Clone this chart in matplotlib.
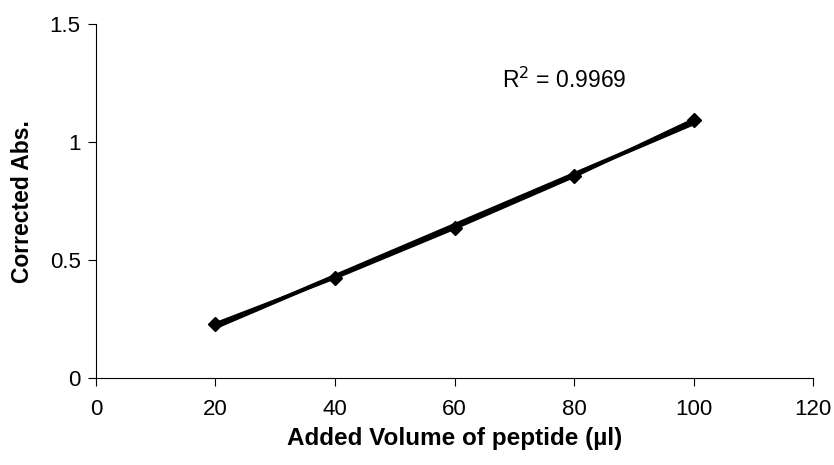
import matplotlib
matplotlib.use('Agg')
import matplotlib.pyplot as plt
import numpy as np

plt.rcParams['font.family'] = ['Liberation Sans', 'DejaVu Sans']

# peptide volume (ul) vs corrected absorbance
volume = [20, 40, 60, 80, 100]
absorb = [0.23, 0.425, 0.635, 0.855, 1.095]
r2_text = 'R$^2$ = 0.9969'

fig = plt.figure(figsize=(8.34, 4.65), dpi=100)
ax = fig.add_axes([0.115, 0.187, 0.860, 0.761])

# linear trendline
slope, icpt = np.polyfit(volume, absorb, 1)
fit_x = np.array([volume[0], volume[-1]])
ax.plot(fit_x, slope * fit_x + icpt, color='black', lw=3, solid_capstyle='butt')
ax.plot(volume, absorb, color='black', lw=2.4, marker='D', markersize=7)

ax.text(68, 1.23, r2_text, fontsize=16.5, va='baseline')

ax.set_xlim(0, 120)
ax.set_ylim(0, 1.5)
ax.set_xticks([0, 20, 40, 60, 80, 100, 120])
ax.set_yticks([0, 0.5, 1, 1.5])
ax.set_yticklabels(['0', '0.5', '1', '1.5'])
ax.tick_params(labelsize=16, length=6, width=0.8, direction='out')
ax.tick_params(axis='x', pad=9)
ax.tick_params(axis='y', pad=5)

for s in ['top', 'right']:
    ax.spines[s].set_visible(False)
for s in ['left', 'bottom']:
    ax.spines[s].set_linewidth(0.8)

ax.set_xlabel('Added Volume of peptide (\u00b5l)', fontsize=17.5, fontweight='bold', labelpad=5)
ax.set_ylabel('Corrected Abs.', fontsize=16.5, fontweight='bold', labelpad=11)

fig.savefig('out.png', dpi=100)
